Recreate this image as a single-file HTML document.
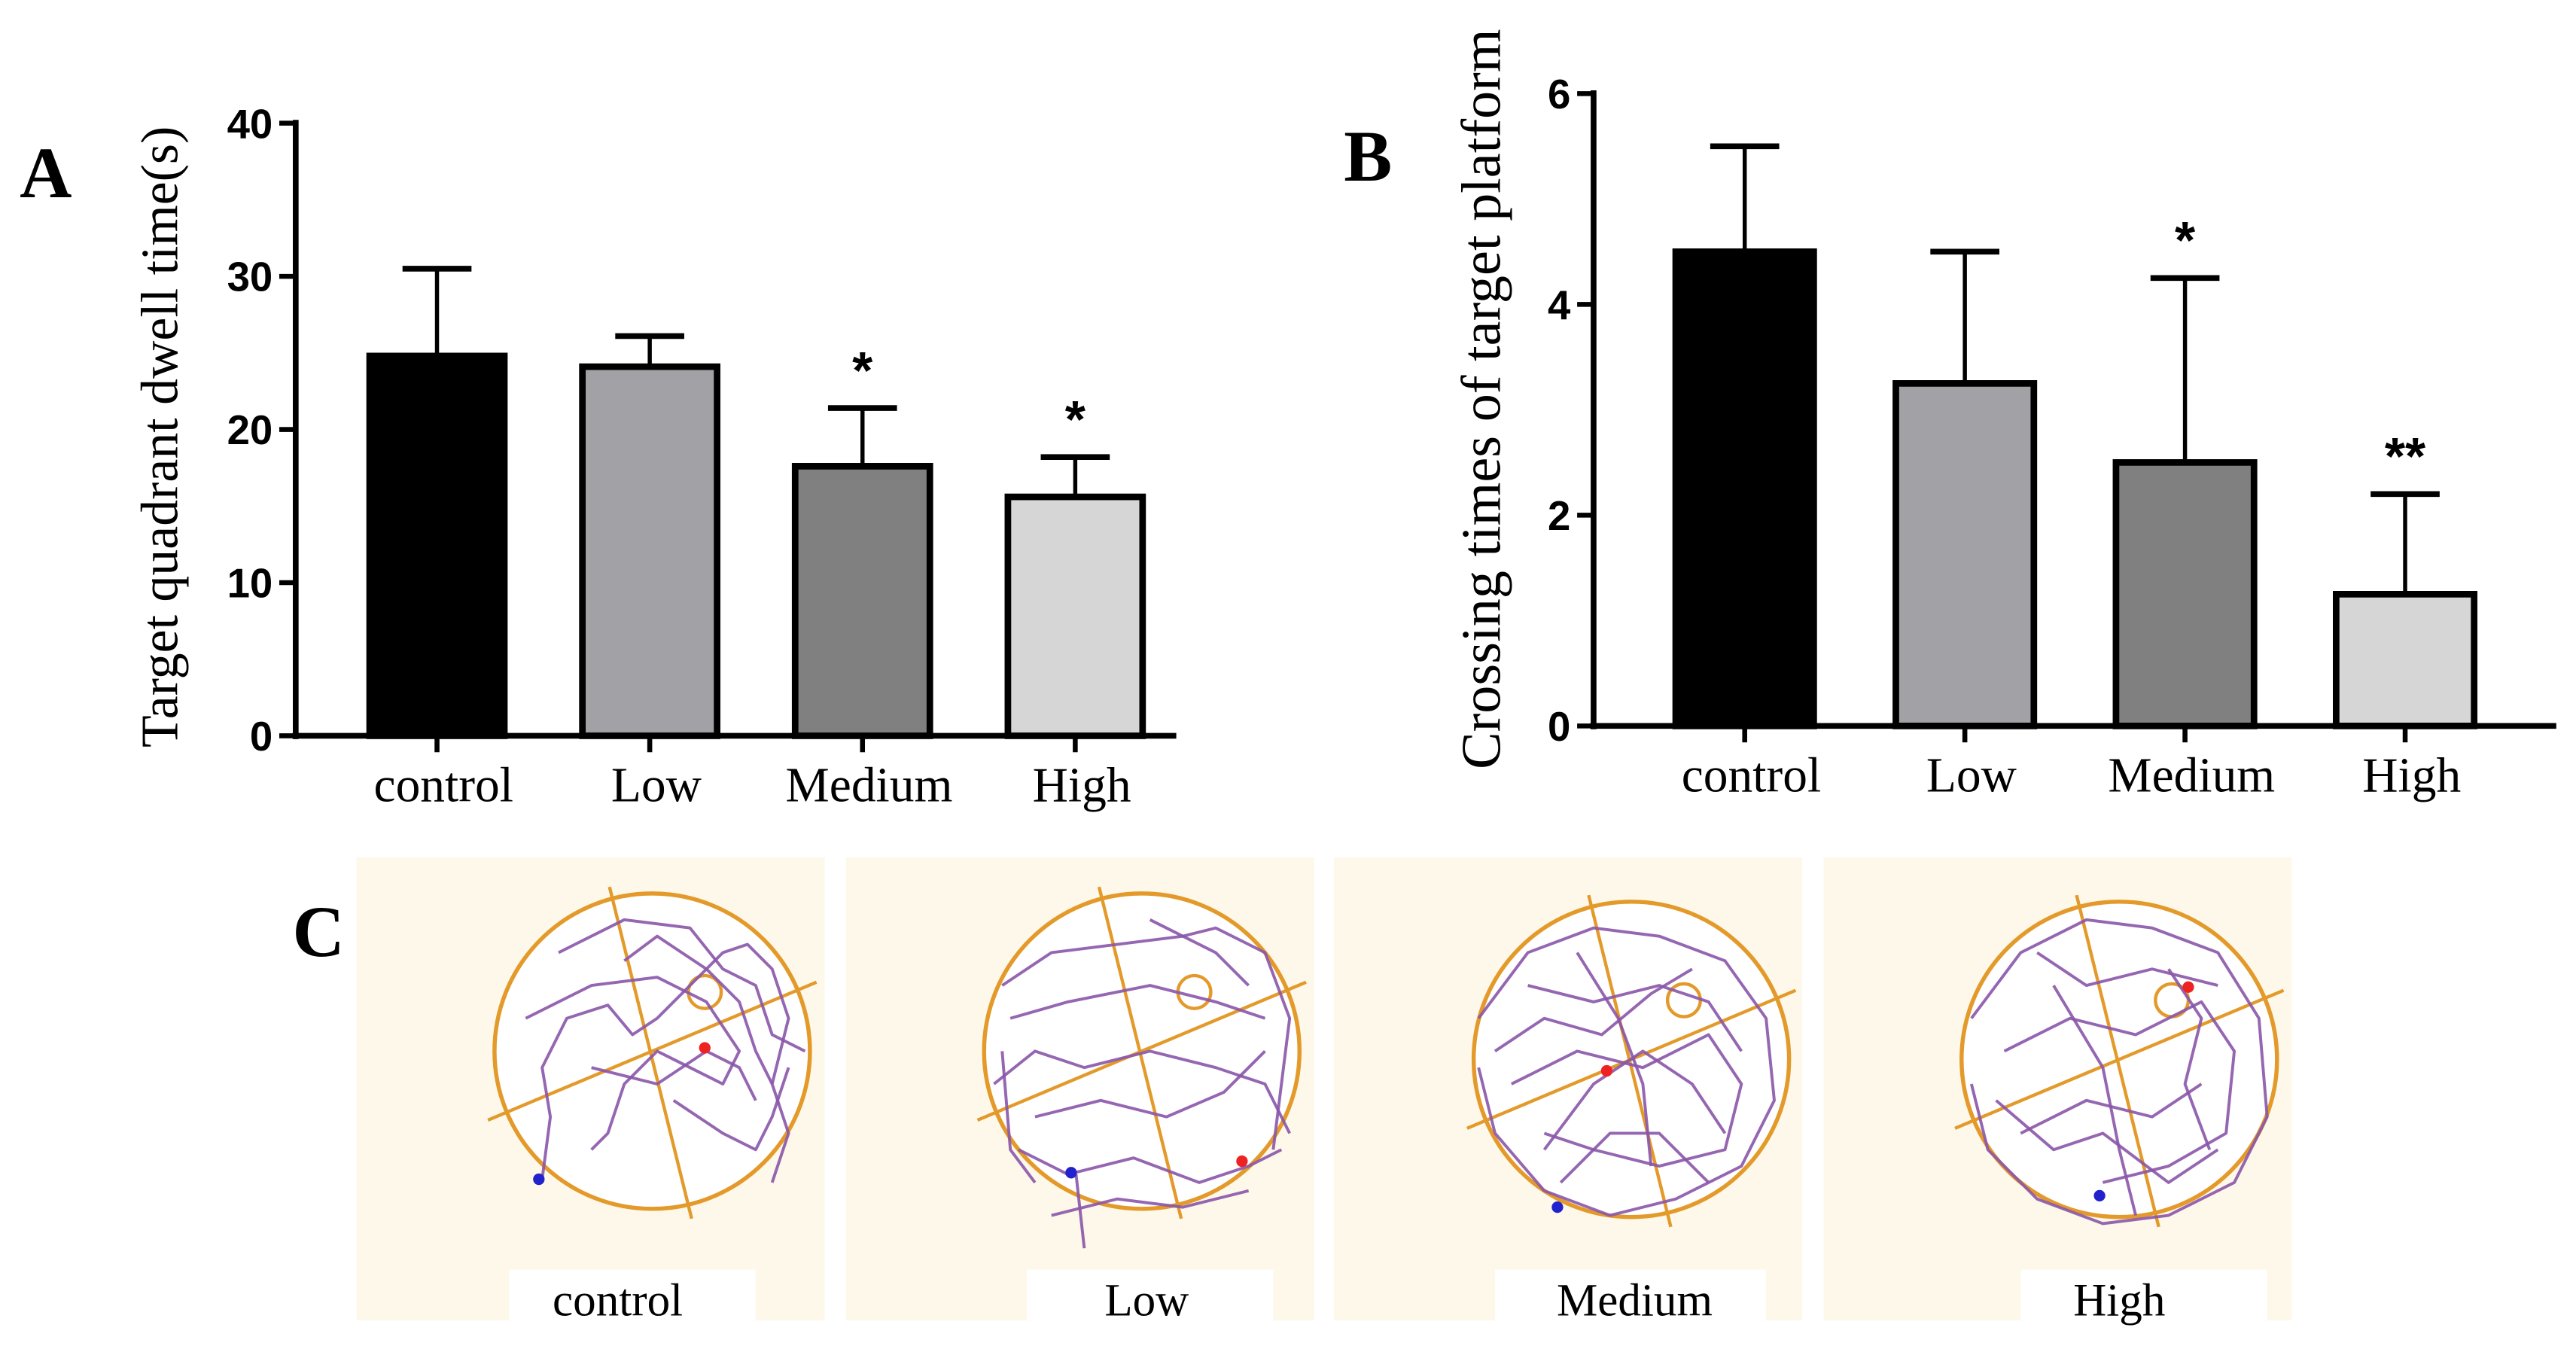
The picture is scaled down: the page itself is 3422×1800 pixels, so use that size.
<!DOCTYPE html>
<html><head><meta charset="utf-8"><style>
html,body{margin:0;padding:0;background:#fff;}
svg{display:block;}
</style></head><body>
<svg id="fig" width="3422" height="1800" viewBox="0 0 1568 825" preserveAspectRatio="none" xmlns="http://www.w3.org/2000/svg">
<rect x="0" y="0" width="1568" height="825" fill="#fff"/>
<text x="12" y="120" font-family="Liberation Serif, serif" font-weight="bold" font-size="44">A</text>
<text x="818" y="110" font-family="Liberation Serif, serif" font-weight="bold" font-size="44">B</text>
<g id="chartA"></g>
<g id="chartB"></g>
<g id="panelC"></g>
</svg>
<script>
const categories = ["control","Low","Medium","High"];
const dwellValues = [24.8, 24.1, 17.6, 15.6];
const dwellErrors = [5.7, 2.0, 3.8, 2.6];
const dwellStars = ["", "", "*", "*"];
const dwellTicks = [0,10,20,30,40];
const crossValues = [4.5, 3.25, 2.5, 1.25];
const crossErrors = [1.0, 1.25, 1.75, 0.95];
const crossStars = ["", "", "*", "**"];
const crossTicks = [0,2,4,6];
const fills = ["#000000","#a2a2a6","#808080","#d6d6d6"];

const NS="http://www.w3.org/2000/svg";
function mk(parent, tag, attrs){const e=document.createElementNS(NS,tag);for(const k in attrs)e.setAttribute(k,attrs[k]);parent.appendChild(e);return e;}

function drawChart(g, cfg){
  const y = v => cfg.y0 - (v - 0)/(cfg.ymax)*(cfg.y0-cfg.yTop);
  const xc = i => cfg.x0 + i*cfg.step;
  let e = mk(g,'line',{x1:cfg.ax,y1:cfg.yTop-2,x2:cfg.ax,y2:cfg.y0+2,stroke:'#000','stroke-width':3.5});
   
  e = mk(g,'line',{x1:cfg.ax-2,y1:cfg.y0,x2:cfg.axEnd,y2:cfg.y0,stroke:'#000','stroke-width':3.5});
   
  cfg.ticks.forEach(t=>{
    let l=mk(g,'line',{x1:cfg.ax-10,y1:y(t),x2:cfg.ax,y2:y(t),stroke:'#000','stroke-width':3});
     
    let tx=mk(g,'text',{x:cfg.ax-14,y:y(t)+9,'text-anchor':'end','font-family':'Liberation Sans, sans-serif','font-weight':'bold','font-size':25});
    tx.textContent=t;  
  });
  let yt=mk(g,'text',{x:0,y:0,'text-anchor':'middle','font-family':'Liberation Serif, serif','font-size':cfg.titleSize,transform:`translate(${cfg.titleX},${cfg.titleY}) rotate(-90)`});
  yt.textContent=cfg.title;  
  categories.forEach((c,i)=>{
    const cx=xc(i), v=cfg.values[i], top=y(v), et=y(v+cfg.errors[i]);
    let eb=mk(g,'line',{x1:cx,y1:top,x2:cx,y2:et,stroke:'#000','stroke-width':2.5});
     
    let cap=mk(g,'line',{x1:cx-21,y1:et,x2:cx+21,y2:et,stroke:'#000','stroke-width':3.5});
     
    let b=mk(g,'rect',{x:cx-cfg.bw/2+2,y:top,width:cfg.bw-4,height:cfg.y0-top,fill:fills[i],stroke:'#000','stroke-width':4});
     
    let tk=mk(g,'line',{x1:cx,y1:cfg.y0,x2:cx,y2:cfg.y0+10,stroke:'#000','stroke-width':3});
     
    let lb=mk(g,'text',{x:cx+4,y:cfg.y0+40,'text-anchor':'middle','font-family':'Liberation Serif, serif','font-size':30});
    lb.textContent=c;  
    if(cfg.stars[i]){
      let s=mk(g,'text',{x:cx,y:et-12,'text-anchor':'middle','font-family':'Liberation Sans, sans-serif','font-weight':'bold','font-size':32});
      s.textContent=cfg.stars[i];  
    }
  });
}
drawChart(document.getElementById('chartA'),{ax:180,axEnd:716,yTop:75,y0:448,ymax:40,x0:266,step:129.5,bw:86,
  ticks:dwellTicks,values:dwellValues,errors:dwellErrors,stars:dwellStars,title:'Target quadrant dwell time(s)',titleX:108,titleY:266,titleSize:32});
drawChart(document.getElementById('chartB'),{ax:970,axEnd:1556,yTop:57,y0:442,ymax:6,x0:1062,step:134,bw:88,
  ticks:crossTicks,values:crossValues,errors:crossErrors,stars:crossStars,title:'Crossing times of target platform',titleX:913,titleY:243,titleSize:34});

// Panel C
const C=document.getElementById('panelC');
let cw=mk(C,'rect',{x:150,y:525,width:90,height:78,fill:'#fff'});
 
const panels=[
 {x:217,cx:397,cy:640,lbl:'control',bx:310,bw:150,tx:376,
  path:"330,718 335,680 330,650 345,620 370,612 385,630 400,620 420,600 440,580 455,575 470,590 480,620 470,660 480,690 470,720 M320,620 360,600 400,595 430,610 450,640 440,660 420,650 400,640 380,660 370,690 360,700 M340,580 380,560 420,565 440,590 460,600 470,630 490,640 M410,670 440,690 460,700 470,680 480,650 M380,585 400,570 430,590 450,610 460,640 470,660 M360,650 400,660 430,640 450,650 460,670"},
 {x:515,cx:695,cy:640,lbl:'Low',bx:625,bw:150,tx:698,
  path:"610,600 640,580 680,575 720,570 740,565 770,580 785,620 775,700 M605,660 630,640 660,650 700,640 740,650 770,660 785,690 M620,700 650,715 690,705 730,720 760,710 780,700 M640,740 680,730 720,735 760,725 M615,620 650,610 700,600 740,610 770,620 M630,680 670,670 710,680 745,665 770,640 M655,715 660,760 M700,560 740,580 760,600 M610,640 615,700 630,720"},
 {x:812,cx:993,cy:645,lbl:'Medium',bx:910,bw:165,tx:995,
  path:"900,620 930,580 970,565 1010,570 1050,585 1075,620 1080,670 1060,710 1020,730 980,740 940,725 910,690 900,650 M920,660 960,640 1000,650 1040,630 1060,660 1050,700 1010,710 970,700 940,690 M930,600 970,610 1010,600 1040,610 1060,640 M950,720 980,690 1010,690 1040,720 M960,580 985,620 1000,660 1005,710 M910,640 940,620 975,630 1005,605 1030,590 M940,700 970,660 1000,640 1030,660 1050,690"},
 {x:1110,cx:1290,cy:645,lbl:'High',bx:1230,bw:150,tx:1290,
  path:"1200,620 1230,580 1270,560 1310,565 1350,580 1375,620 1380,680 1360,720 1320,740 1280,745 1240,730 1210,700 1200,660 M1220,640 1260,620 1300,630 1340,610 1360,640 1355,690 1320,710 1280,720 M1230,690 1270,670 1310,680 1340,660 M1250,600 1280,650 1290,700 1300,740 M1215,670 1250,700 1280,690 1320,720 1350,700 M1320,590 1340,620 1330,660 1345,700 M1240,580 1270,600 1310,590 1350,600"}
];
panels.forEach((p,i)=>{
  const g=mk(C,'g',{});
   
  mk(g,'rect',{x:p.x,y:522,width:285,height:282,fill:'#fdf8e9'});
  mk(g,'circle',{cx:p.cx,cy:p.cy,r:96,fill:'#fff',stroke:'#e39a2a','stroke-width':2.5});
  mk(g,'line',{x1:p.cx-26,y1:p.cy-100,x2:p.cx+24,y2:p.cy+102,stroke:'#e39a2a','stroke-width':2});
  mk(g,'line',{x1:p.cx-100,y1:p.cy+42,x2:p.cx+100,y2:p.cy-42,stroke:'#e39a2a','stroke-width':2});
  mk(g,'circle',{cx:p.cx+32,cy:p.cy-36,r:10,fill:'none',stroke:'#e39a2a','stroke-width':2});
  const segs=p.path.split('M').map(s=>s.trim()).filter(Boolean);
  segs.forEach(s=>mk(g,'polyline',{points:s,fill:'none',stroke:'#8a55a8','stroke-width':1.8,'stroke-linejoin':'round',opacity:0.9}));
  mk(g,'rect',{x:p.bx,y:773,width:p.bw,height:31,fill:'#fff'});
  const t=mk(g,'text',{x:p.tx,y:801,'text-anchor':'middle','font-family':'Liberation Serif, serif','font-size':28});
  t.textContent=p.lbl;
  
  
});
const dots=[[328,718,'#22c'],[429,638,'#e22'],[652,714,'#22c'],[756,707,'#e22'],[948,735,'#22c'],[978,652,'#e22'],[1278,728,'#22c'],[1332,601,'#e22']];
dots.forEach(d=>{const c=mk(C,'circle',{cx:d[0],cy:d[1],r:3.5,fill:d[2]});
   });
let ct=mk(C,'text',{x:178,y:582,'font-family':'Liberation Serif, serif','font-weight':'bold','font-size':44});
ct.textContent='C';


</script>
</body></html>
